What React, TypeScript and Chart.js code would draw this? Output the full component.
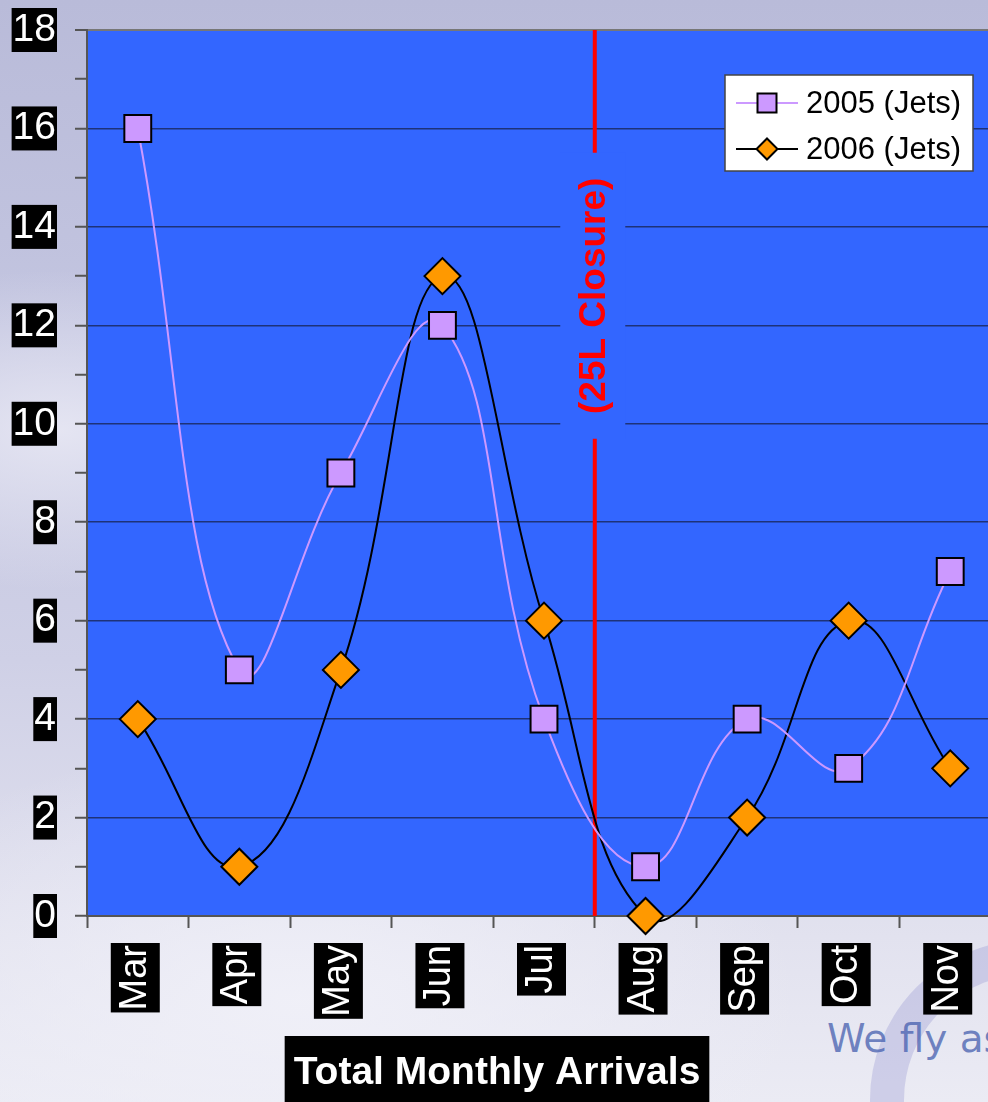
import React, { useEffect, useRef } from 'react';
import { Chart, registerables } from 'chart.js';

Chart.register(...registerables);

const months = ['Mar', 'Apr', 'May', 'Jun', 'Jul', 'Aug', 'Sep', 'Oct', 'Nov'];
const jets2005 = [16, 5, 9, 12, 4, 1, 4, 3, 7];
const jets2006 = [4, 1, 5, 13, 6, 0, 2, 6, 3];
const seriesLabels = ['2005 (Jets)', '2006 (Jets)'];
const yMin = 0;
const yMax = 18;
const yLabelStep = 2;
const closureLabel = '(25L Closure)';
const closureAfterIndex = 4; // line sits between Jul and Aug
const chartTitle = 'Total Monthly Arrivals';
const watermarkText = 'We fly as';

const FONT = '"Liberation Sans", Arial, Helvetica, sans-serif';
const PLOT_BG = '#3366ff';
const GRID = '#1e3278';
const AXIS = '#555555';
const CANVAS_W = 1022;
const CANVAS_H = 1102;

function drawMarker(ctx: CanvasRenderingContext2D, style: string, x: number, y: number, size: number, fill: string) {
  ctx.save();
  ctx.fillStyle = fill;
  ctx.strokeStyle = '#000';
  ctx.lineWidth = 2;
  ctx.beginPath();
  if (style === 'rect') {
    ctx.rect(x - size / 2, y - size / 2, size, size);
  } else {
    ctx.moveTo(x, y - size / 2);
    ctx.lineTo(x + size / 2, y);
    ctx.lineTo(x, y + size / 2);
    ctx.lineTo(x - size / 2, y);
    ctx.closePath();
  }
  ctx.fill();
  ctx.stroke();
  ctx.restore();
}

export default function App() {
  const ref = useRef<HTMLCanvasElement>(null);

  useEffect(() => {
    const canvas = ref.current;
    if (!canvas) return;

    const plotBg = {
      id: 'plotBg',
      beforeDraw(chart: any) {
        const { ctx, chartArea: a } = chart;
        ctx.save();
        ctx.fillStyle = PLOT_BG;
        ctx.fillRect(a.left, a.top, a.right - a.left, a.bottom - a.top);
        ctx.restore();
      },
    };

    const closure = {
      id: 'closure',
      beforeDatasetsDraw(chart: any) {
        const { ctx, chartArea: a, scales } = chart;
        const x = scales.x.getPixelForValue(closureAfterIndex + 0.5);
        const cy = scales.y.getPixelForValue(12.6);
        const gapH = 286;
        const gapW = 65;
        ctx.save();
        ctx.fillStyle = PLOT_BG;
        ctx.fillRect(x - gapW / 2 - 2, cy - gapH / 2, gapW, gapH);
        ctx.strokeStyle = '#ff0000';
        ctx.lineWidth = 4;
        ctx.beginPath();
        ctx.moveTo(x, a.top);
        ctx.lineTo(x, cy - gapH / 2);
        ctx.moveTo(x, cy + gapH / 2);
        ctx.lineTo(x, a.bottom);
        ctx.stroke();
        ctx.translate(x, cy);
        ctx.rotate(-Math.PI / 2);
        ctx.font = `bold 37px ${FONT}`;
        ctx.fillStyle = '#ff0000';
        ctx.textAlign = 'center';
        ctx.textBaseline = 'middle';
        ctx.fillText(closureLabel, 0, 0);
        ctx.restore();
      },
    };

    const legendBox = {
      id: 'legendBox',
      afterDatasetsDraw(chart: any) {
        const { ctx, chartArea: a } = chart;
        const w = 248;
        const h = 96;
        const left = a.right - 28 - w;
        const top = a.top + 45;
        ctx.save();
        ctx.fillStyle = '#ffffff';
        ctx.fillRect(left, top, w, h);
        ctx.strokeStyle = '#444';
        ctx.lineWidth = 1.5;
        ctx.strokeRect(left, top, w, h);
        chart.data.datasets.forEach((ds: any, i: number) => {
          const y = top + 28 + i * 46;
          ctx.strokeStyle = ds.borderColor;
          ctx.lineWidth = ds.borderWidth;
          ctx.beginPath();
          ctx.moveTo(left + 11, y);
          ctx.lineTo(left + 73, y);
          ctx.stroke();
          drawMarker(ctx, ds.pointStyle, left + 42, y, ds.pointStyle === 'rect' ? 19 : 21, ds.pointBackgroundColor);
          ctx.fillStyle = '#000';
          ctx.font = `31px ${FONT}`;
          ctx.textAlign = 'left';
          ctx.textBaseline = 'middle';
          ctx.fillText(ds.label, left + 81, y + 1);
        });
        ctx.restore();
      },
    };

    const titleBox = {
      id: 'titleBox',
      afterDraw(chart: any) {
        const { ctx } = chart;
        ctx.save();
        ctx.font = `bold 39px ${FONT}`;
        const tw = ctx.measureText(chartTitle).width;
        const cx = 497;
        ctx.fillStyle = '#000';
        ctx.fillRect(cx - tw / 2 - 9, 1036, tw + 18, CANVAS_H - 1036);
        ctx.fillStyle = '#ffffff';
        ctx.textAlign = 'center';
        ctx.textBaseline = 'alphabetic';
        ctx.fillText(chartTitle, cx, 1084);
        ctx.restore();
      },
    };

    const chart = new Chart(canvas, {
      type: 'line',
      data: {
        labels: months,
        datasets: [
          {
            label: seriesLabels[0],
            data: jets2005,
            borderColor: '#cc99ff',
            borderWidth: 2,
            pointStyle: 'rect',
            pointRadius: 19,
            pointBackgroundColor: '#cc99ff',
            pointBorderColor: '#000',
            pointBorderWidth: 2,
            tension: 0.42,
            capBezierPoints: false,
            clip: false,
          } as any,
          {
            label: seriesLabels[1],
            data: jets2006,
            borderColor: '#000000',
            borderWidth: 2,
            pointStyle: 'rectRot',
            pointRadius: 18,
            pointBackgroundColor: '#ff9900',
            pointBorderColor: '#000',
            pointBorderWidth: 2,
            tension: 0.42,
            capBezierPoints: false,
            clip: false,
          } as any,
        ],
      },
      options: {
        responsive: false,
        animation: false,
        devicePixelRatio: 1,
        events: [],
        elements: { line: { capBezierPoints: false } },
        layout: { padding: { top: 30, left: 0, right: 0, bottom: 0 } },
        plugins: {
          legend: { display: false },
          tooltip: { enabled: false },
          title: { display: false },
        },
        scales: {
          x: {
            type: 'category',
            offset: true,
            afterFit: (scale: any) => {
              scale.height = CANVAS_H - 916;
              scale.paddingLeft = 0;
              scale.paddingRight = 0;
              scale.paddingTop = 0;
              scale.paddingBottom = 0;
            },
            grid: {
              offset: true,
              drawOnChartArea: false,
              drawTicks: true,
              tickLength: 12,
              tickColor: AXIS,
              tickWidth: 2,
            },
            border: { color: AXIS, width: 2 },
            ticks: {
              color: '#ffffff',
              font: { family: FONT, size: 38, lineHeight: '45px' },
              minRotation: 90,
              maxRotation: 90,
              autoSkip: false,
              padding: 17,
              labelOffset: -25,
              showLabelBackdrop: true,
              backdropColor: '#000000',
              backdropPadding: 2,
            } as any,
          },
          y: {
            min: yMin,
            max: yMax,
            afterFit: (scale: any) => {
              scale.width = 87;
              scale.paddingLeft = 0;
              scale.paddingRight = 0;
              scale.paddingTop = 0;
              scale.paddingBottom = 0;
            },
            grid: {
              color: (c: any) =>
                c.tick && c.tick.value === yMax ? '#777777' : c.tick && c.tick.value % yLabelStep === 0 && c.tick.value !== yMin ? GRID : 'rgba(0,0,0,0)',
              lineWidth: (c: any) => (c.tick && c.tick.value === yMax ? 2 : 1.5),
              tickLength: 12,
              tickColor: AXIS,
              tickWidth: 2,
            },
            border: { color: AXIS, width: 2 },
            ticks: {
              stepSize: 1,
              autoSkip: false,
              color: '#ffffff',
              font: { family: FONT, size: 39, lineHeight: '42px' },
              padding: 19,
              callback: (v: any) => (Number(v) % yLabelStep === 0 ? String(v) : ''),
              showLabelBackdrop: true,
              backdropColor: (c: any) => (c.tick && c.tick.value % yLabelStep === 0 ? '#000000' : 'rgba(0,0,0,0)'),
              backdropPadding: 1,
            } as any,
          },
        },
      },
      plugins: [plotBg, closure, legendBox, titleBox],
    });

    return () => {
      chart.destroy();
    };
  }, []);

  return (
    <div
      style={{
        position: 'fixed',
        left: 0,
        top: 0,
        width: 988,
        height: 1102,
        overflow: 'hidden',
        background:
          'radial-gradient(ellipse 300px 160px at 60px 430px, rgba(232,232,244,0.9), rgba(232,232,244,0) 100%),' +
          'radial-gradient(ellipse 500px 260px at 300px 1000px, rgba(240,240,248,0.95), rgba(240,240,248,0) 100%),' +
          'linear-gradient(180deg, #b9bbd9 0%, #c3c5e0 30%, #cfd0e6 60%, #e2e2ef 85%, #ebebf4 100%)',
      }}
    >
      <div
        style={{
          position: 'absolute',
          left: 870,
          top: 940,
          width: 252,
          height: 252,
          borderRadius: '50%',
          border: '34px solid rgba(150,150,210,0.33)',
        }}
      />
      <div
        style={{
          position: 'absolute',
          left: 827,
          top: 1019,
          fontFamily: '"DejaVu Sans", Verdana, sans-serif',
          fontSize: 39,
          lineHeight: '39px',
          color: 'rgba(70,95,175,0.75)',
          whiteSpace: 'nowrap',
        }}
      >
        {watermarkText}
      </div>
      <canvas ref={ref} width={CANVAS_W} height={CANVAS_H} style={{ position: 'absolute', left: 0, top: 0 }} />
    </div>
  );
}
